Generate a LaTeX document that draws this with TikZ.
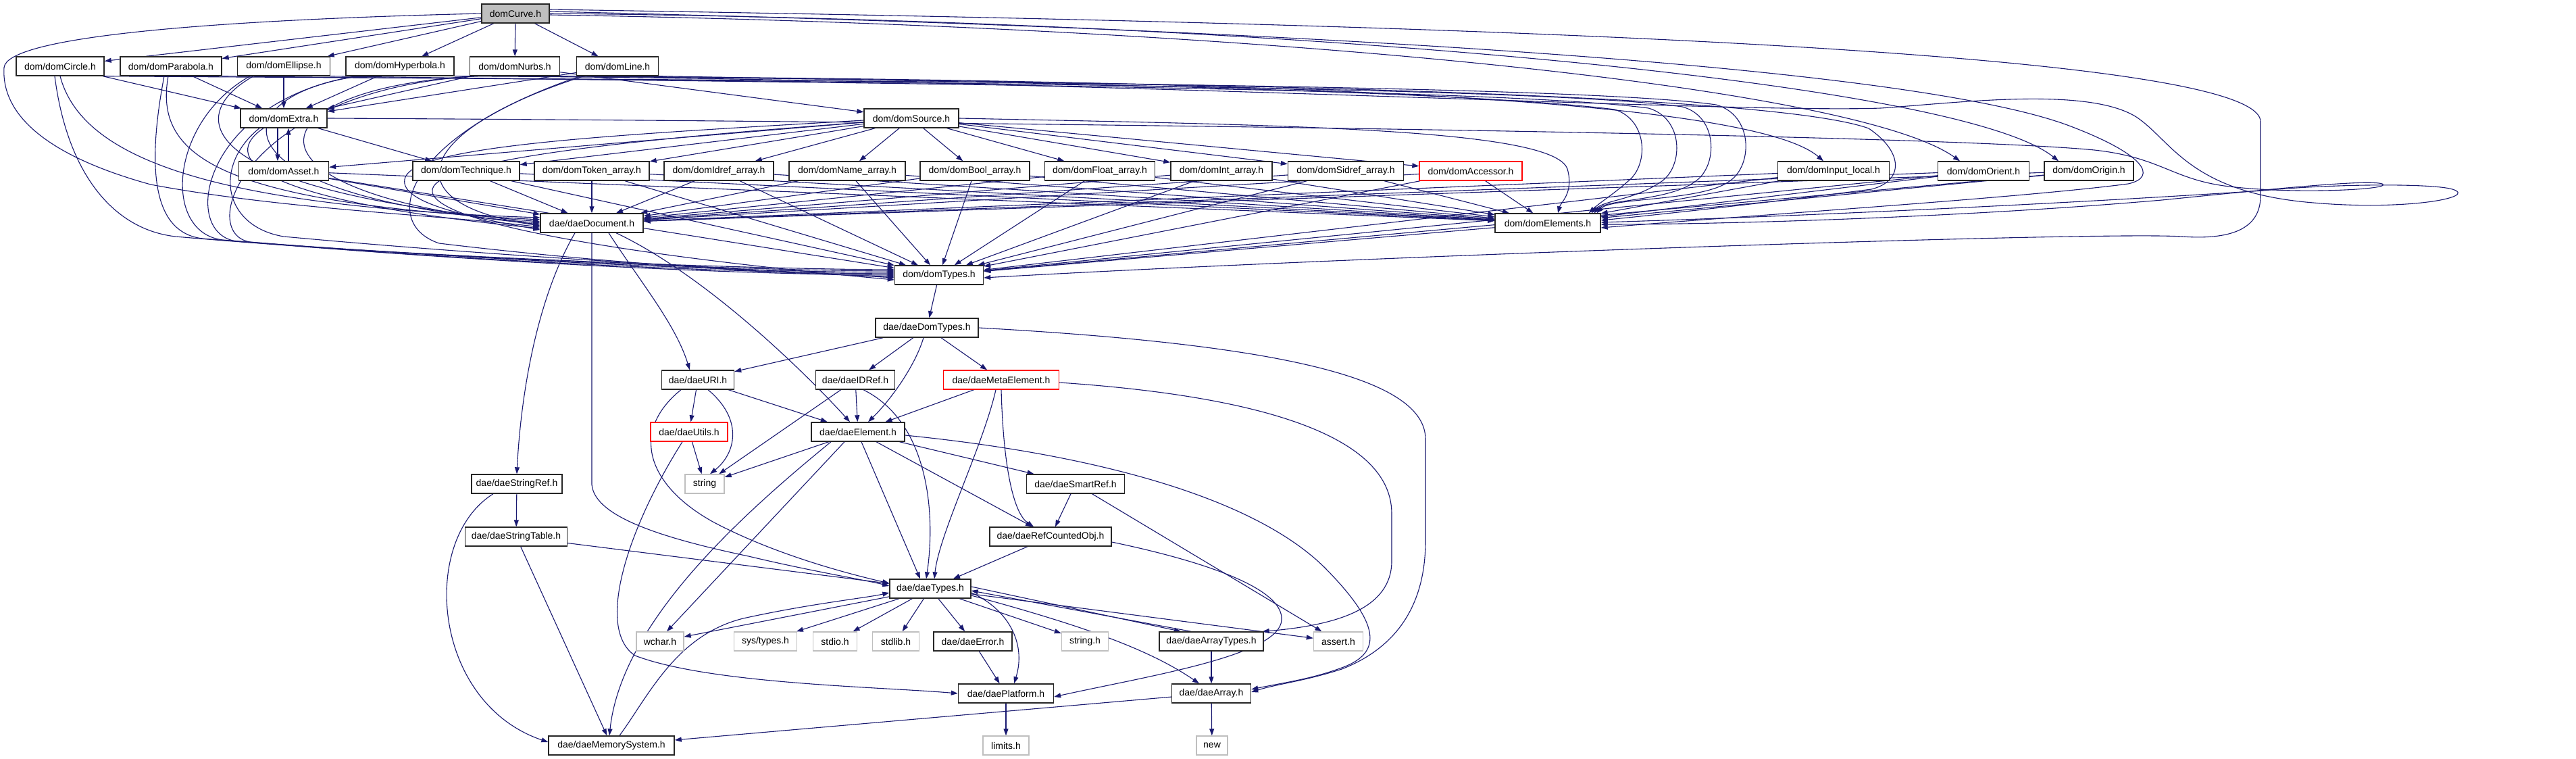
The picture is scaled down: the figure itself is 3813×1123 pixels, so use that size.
\documentclass[tikz,border=0pt]{standalone}
\usepackage{fontspec}
\setmainfont{Liberation Sans}
\usetikzlibrary{arrows.meta}
\pgfdeclarelayer{bg}
\pgfsetlayers{bg,main}
\definecolor{edgec}{HTML}{191970}
\definecolor{leafc}{HTML}{BFBFBF}
\definecolor{truncc}{HTML}{FF0000}
\begin{document}
\begin{tikzpicture}[x=1pt,y=-1pt,
 box/.style={draw=black!85,line width=1.4pt,fill=white,minimum height=28pt,inner sep=0pt,font=\fontsize{14pt}{16pt}\selectfont},
 leaf/.style={box,draw=leafc},
 trunc/.style={box,draw=truncc},
 e/.style={draw=edgec,line width=1.1pt,-{Triangle[length=10pt,width=7pt]}}]
\useasboundingbox (0,0) rectangle (3813,1123);
% nodes
\node[box,fill=leafc,minimum width=100pt] (nCurve) at (763,20) {domCurve.h};
\node[box,minimum width=130pt] (nCircle) at (89,98) {dom/domCircle.h};
\node[box,minimum width=150pt] (nParabola) at (253,98) {dom/domParabola.h};
\node[box,minimum width=137pt] (nEllipse) at (420,98) {dom/domEllipse.h};
\node[box,minimum width=160pt] (nHyper) at (592,98) {dom/domHyperbola.h};
\node[box,minimum width=133pt] (nNurbs) at (762,98) {dom/domNurbs.h};
\node[box,minimum width=121pt] (nLine) at (914,98) {dom/domLine.h};
\node[box,minimum width=128pt] (nExtra) at (420,175) {dom/domExtra.h};
\node[box,minimum width=140pt] (nSource) at (1349,175) {dom/domSource.h};
\node[box,minimum width=133pt] (nAsset) at (420,253) {dom/domAsset.h};
\node[box,minimum width=158pt] (nTech) at (690,253) {dom/domTechnique.h};
\node[box,minimum width=170pt] (nToken) at (876,253) {dom/domToken\_array.h};
\node[box,minimum width=162pt] (nIdref) at (1064,253) {dom/domIdref\_array.h};
\node[box,minimum width=172pt] (nName) at (1254,253) {dom/domName\_array.h};
\node[box,minimum width=162pt] (nBool) at (1443,253) {dom/domBool\_array.h};
\node[box,minimum width=163pt] (nFloat) at (1628,253) {dom/domFloat\_array.h};
\node[box,minimum width=150pt] (nInt) at (1808,253) {dom/domInt\_array.h};
\node[box,minimum width=171pt] (nSidref) at (1992,253) {dom/domSidref\_array.h};
\node[trunc,minimum width=152pt] (nAccessor) at (2177,253) {dom/domAccessor.h};
\node[box,minimum width=165pt] (nInput) at (2714,253) {dom/domInput\_local.h};
\node[box,minimum width=135pt] (nOrient) at (2936,253) {dom/domOrient.h};
\node[box,minimum width=132pt] (nOrigin) at (3092,253) {dom/domOrigin.h};
\node[box,minimum width=152pt] (nDoc) at (876,330) {dae/daeDocument.h};
\node[box,minimum width=156pt] (nElems) at (2291,330) {dom/domElements.h};
\node[box,minimum width=131pt] (nDomTypes) at (1390,407) {dom/domTypes.h};
\node[box,minimum width=152pt] (nDaeDom) at (1372,485) {dae/daeDomTypes.h};
\node[box,minimum width=107pt] (nURI) at (1033,562) {dae/daeURI.h};
\node[box,minimum width=117pt] (nIDRef) at (1266,562) {dae/daeIDRef.h};
\node[trunc,minimum width=171pt] (nMeta) at (1482,562) {dae/daeMetaElement.h};
\node[trunc,minimum width=114pt] (nUtils) at (1020,639) {dae/daeUtils.h};
\node[box,minimum width=138pt] (nElement) at (1270,639) {dae/daeElement.h};
\node[leaf,minimum width=58pt] (nString) at (1043,716) {string};
\node[box,minimum width=134pt] (nStrRef) at (765,716) {dae/daeStringRef.h};
\node[box,minimum width=145pt] (nSmart) at (1592,716) {dae/daeSmartRef.h};
\node[box,minimum width=151pt] (nStrTab) at (764,794) {dae/daeStringTable.h};
\node[box,minimum width=180pt] (nRefCnt) at (1555,794) {dae/daeRefCountedObj.h};
\node[box,minimum width=120pt] (nTypes) at (1377,871) {dae/daeTypes.h};
\node[leaf,minimum width=70pt] (nWchar) at (977,949) {wchar.h};
\node[leaf,minimum width=93pt] (nSysT) at (1133,949) {sys/types.h};
\node[leaf,minimum width=65pt] (nStdio) at (1236,949) {stdio.h};
\node[leaf,minimum width=69pt] (nStdlib) at (1326,949) {stdlib.h};
\node[box,minimum width=116pt] (nError) at (1440,949) {dae/daeError.h};
\node[leaf,minimum width=69pt] (nStrH) at (1606,949) {string.h};
\node[box,minimum width=154pt] (nArrT) at (1793,949) {dae/daeArrayTypes.h};
\node[leaf,minimum width=73pt] (nAssert) at (1981,949) {assert.h};
\node[box,minimum width=141pt] (nPlat) at (1489,1026) {dae/daePlatform.h};
\node[box,minimum width=117pt] (nArray) at (1793,1026) {dae/daeArray.h};
\node[box,minimum width=186pt] (nMem) at (905,1103) {dae/daeMemorySystem.h};
\node[leaf,minimum width=68pt] (nLimits) at (1489,1103) {limits.h};
\node[leaf,minimum width=46pt] (nNew) at (1794,1103) {new};

\begin{pgfonlayer}{bg}
\fill[white] (0,0) rectangle (3813,1123);
% domCurve
\foreach \t in {nCircle,nParabola,nEllipse,nHyper,nNurbs,nLine} \draw[e] (nCurve) -- (\t);
\draw[e] (nCurve.west) .. controls (300,30) and (10,55) .. (6,100) .. controls (2,165) and (60,228) .. (223,273) .. controls (420,310) and (650,318) .. ([yshift=-6pt]nDoc.west);
\draw[e] ([yshift=6pt]nCurve.east) .. controls (1800,30) and (3346,60) .. (3346,180) -- (3346,290) .. controls (3346,340) and (3300,355) .. (3230,350) .. controls (3100,342) and (2000,380) .. ([yshift=-4pt]nDomTypes.east);
\draw[e] ([yshift=3pt]nCurve.east) .. controls (1800,40) and (2800,90) .. (3060,185) .. controls (3175,228) and (3195,262) .. (3150,272) .. controls (3000,292) and (2600,318) .. ([yshift=-7pt]nElems.east);
\draw[e] ([yshift=-2pt]nCurve.east) .. controls (1900,40) and (2750,130) .. ([xshift=-35pt]nOrient.north);
\draw[e] ([yshift=0pt]nCurve.east) .. controls (1900,30) and (2900,120) .. ([xshift=-45pt]nOrigin.north);
% row 2 -> extra
\foreach \t in {nCircle,nParabola,nEllipse,nHyper,nNurbs,nLine} \draw[e] (\t) -- (nExtra);
% row 2 -> document
\draw[e] (nCircle.south) .. controls (120,230) and (300,305) .. ([yshift=8pt]nDoc.west);
\draw[e] ([xshift=-4pt]nParabola.south) .. controls (228,230) and (320,300) .. ([yshift=5pt]nDoc.west);
\draw[e] ([xshift=-45pt]nEllipse.south) .. controls (265,175) and (300,285) .. ([yshift=2pt]nDoc.west);
\draw[e] ([xshift=-60pt]nHyper.south) .. controls (330,140) and (300,290) .. ([yshift=0pt]nDoc.west);
\draw[e] ([xshift=-55pt]nNurbs.south) .. controls (380,128) and (320,285) .. ([yshift=-2pt]nDoc.west);
\draw[e] ([xshift=-50pt]nLine.south) .. controls (620,190) and (570,300) .. ([yshift=-4pt]nDoc.west);
% row 2 -> domTypes (left)
\draw[e] ([xshift=-8pt]nCircle.south) .. controls (100,260) and (170,340) .. (260,350) .. controls (600,380) and (1100,398) .. ([yshift=8pt]nDomTypes.west);
\draw[e] ([xshift=-10pt]nParabola.south) .. controls (215,260) and (230,345) .. (300,353) .. controls (650,382) and (1100,400) .. ([yshift=6pt]nDomTypes.west);
\draw[e] ([xshift=-50pt]nEllipse.south) .. controls (250,180) and (240,345) .. (330,355) .. controls (700,385) and (1100,402) .. ([yshift=4pt]nDomTypes.west);
\draw[e] ([xshift=-65pt]nHyper.south) .. controls (300,150) and (265,345) .. (350,357) .. controls (720,388) and (1100,404) .. ([yshift=2pt]nDomTypes.west);
\draw[e] ([xshift=-60pt]nNurbs.south) .. controls (360,135) and (290,345) .. (370,358) .. controls (740,390) and (1100,406) .. ([yshift=0pt]nDomTypes.west);
\draw[e] ([xshift=-55pt]nLine.south) .. controls (600,200) and (560,330) .. (650,360) .. controls (900,390) and (1150,405) .. ([yshift=-2pt]nDomTypes.west);
% row 2 -> elements (right)
\draw[e] (nCircle.south east) .. controls (900,118) and (2300,120) .. (2540,155) .. controls (2595,170) and (2595,245) .. (2560,268) .. controls (2520,298) and (2385,292) .. ([xshift=-6pt]nElems.north east);
\draw[e] (nParabola.south east) .. controls (1000,120) and (2250,124) .. (2490,158) .. controls (2543,172) and (2543,245) .. (2510,268) .. controls (2470,298) and (2380,294) .. ([xshift=-10pt]nElems.north east);
\draw[e] (nEllipse.south east) .. controls (1100,122) and (2200,128) .. (2440,160) .. controls (2492,175) and (2492,245) .. (2460,268) .. controls (2420,296) and (2375,296) .. ([xshift=-14pt]nElems.north east);
\draw[e] (nLine.south east) .. controls (1400,120) and (2150,132) .. (2390,162) .. controls (2440,178) and (2440,245) .. (2410,268) .. controls (2385,290) and (2370,298) .. ([xshift=-18pt]nElems.north east);
\draw[e] (nNurbs.south east) .. controls (1500,120) and (2600,130) .. (2766,190) .. controls (2818,225) and (2818,268) .. (2770,280) .. controls (2600,302) and (2450,318) .. ([yshift=4pt]nElems.east);
\draw[e] (nNurbs) -- (nSource);
\draw[e] (nNurbs.south east) .. controls (1700,118) and (2580,135) .. ([xshift=-15pt]nInput.north);
\draw[e] (nHyper.south east) .. controls (1600,116) and (2550,168) .. (2784,160) .. controls (2900,152) and (3090,128) .. (3162,173) .. controls (3215,208) and (3240,285) .. (3424,300) .. controls (3560,312) and (3670,292) .. (3630,280) .. controls (3600,271) and (3450,272) .. (3350,282) .. controls (3000,305) and (2600,322) .. ([yshift=1pt]nElems.east);
% extra
\draw[e] (nExtra.east) .. controls (1500,180) and (2850,198) .. (3100,222) .. controls (3200,233) and (3215,266) .. (3300,276) .. controls (3400,288) and (3545,280) .. (3526,272) .. controls (3505,265) and (3360,280) .. (3200,296) .. controls (2900,322) and (2550,332) .. ([yshift=-2pt]nElems.east);
\draw[e] ([xshift=-9pt]nExtra.south) -- ([xshift=-9pt]nAsset.north);
\draw[e] ([xshift=7pt]nAsset.north) -- ([xshift=7pt]nExtra.south);
\draw[e] (nExtra) -- (nTech);
\draw[e] ([xshift=-30pt]nExtra.south) .. controls (330,230) and (360,295) .. ([yshift=-8pt]nDoc.west);
\draw[e] ([xshift=-36pt]nExtra.south) .. controls (315,245) and (330,335) .. (420,350) .. controls (800,385) and (1150,400) .. ([yshift=-4pt]nDomTypes.west);
% asset
\draw[e] (nAsset) -- (nDoc);
\draw[e] (nAsset) -- (nDomTypes);
\draw[e] (nAsset) -- (nElems);
% row 4 -> document, domTypes, elements
\foreach \s in {nTech,nToken,nIdref,nName,nBool,nFloat,nInt,nSidref,nAccessor,nInput,nOrient,nOrigin} {
  \draw[e] (\s) -- (nDoc);
  \draw[e] (\s) -- (nDomTypes);
  \draw[e] (\s) -- (nElems);
}
% source
\foreach \t in {nAsset,nTech,nToken,nIdref,nName,nBool,nFloat,nInt,nSidref,nAccessor} \draw[e] (nSource) -- (\t);
\draw[e] ([yshift=-3pt]nSource.west) .. controls (900,200) and (620,215) .. (600,262) .. controls (585,300) and (700,322) .. ([yshift=-10pt]nDoc.west);
\draw[e] ([yshift=-6pt]nSource.west) .. controls (950,205) and (650,235) .. (640,280) .. controls (630,335) and (1000,385) .. ([yshift=-7pt]nDomTypes.west);
\draw[e] (nSource.east) .. controls (1900,185) and (2300,190) .. (2320,250) .. controls (2330,285) and (2310,300) .. ([xshift=15pt]nElems.north);
% document
\draw[e] ([xshift=-25pt]nDoc.south) .. controls (790,450) and (770,600) .. (nStrRef.north);
\draw[e] (nDoc.south) -- (876,717) .. controls (880,760) and (960,792) .. (1108,823) .. controls (1200,845) and (1280,858) .. ([yshift=4pt]nTypes.west);
\draw[e] ([xshift=25pt]nDoc.south) .. controls (950,420) and (1000,480) .. ([xshift=-12pt]nURI.north);
\draw[e] ([xshift=36pt]nDoc.south) .. controls (1050,410) and (1200,560) .. ([xshift=-12pt]nElement.north);
% elements, domTypes
\draw[e] (nElems) -- (nDomTypes);
\draw[e] (nDomTypes) -- (nDaeDom);
% daeDomTypes
\draw[e] (nDaeDom) -- (nURI);
\draw[e] (nDaeDom) -- (nIDRef);
\draw[e] (nDaeDom) -- (nMeta);
\draw[e] ([xshift=-5pt]nDaeDom.south) .. controls (1355,540) and (1320,590) .. ([xshift=15pt]nElement.north);
\draw[e] (nDaeDom.east) .. controls (1900,510) and (2110,560) .. (2110,650) -- (2110,800) .. controls (2110,900) and (2063,960) .. (1986,990) .. controls (1930,1008) and (1890,1012) .. ([yshift=2pt]nArray.east);
% meta
\draw[e] (nMeta) -- (nElement);
\draw[e] ([xshift=-8pt]nMeta.south) .. controls (1455,660) and (1390,790) .. ([xshift=6pt]nTypes.north);
\draw[e] ([xshift=0pt]nMeta.south) .. controls (1485,690) and (1500,760) .. ([xshift=-25pt]nRefCnt.north);
\draw[e] ([yshift=-4pt]nMeta.east) .. controls (1850,585) and (2060,640) .. (2060,760) -- (2060,830) .. controls (2060,900) and (1980,925) .. ([xshift=-2pt]nArrT.north east);
% uri
\draw[e] (nURI) -- (nUtils);
\draw[e] ([xshift=15pt]nURI.south) .. controls (1100,620) and (1090,670) .. ([xshift=8pt]nString.north);
\draw[e] (nURI) -- (nElement);
\draw[e] ([xshift=-25pt]nURI.south) .. controls (930,640) and (960,720) .. (1057,773) .. controls (1150,822) and (1260,850) .. ([yshift=8pt]nTypes.west);
% idref
\draw[e] (nIDRef) -- (nElement);
\draw[e] (nIDRef) -- (nString);
\draw[e] ([xshift=12pt]nIDRef.south) .. controls (1375,625) and (1385,760) .. ([xshift=-6pt]nTypes.north);
% utils
\draw[e] (nUtils) -- (nString);
\draw[e] ([xshift=-10pt]nUtils.south) .. controls (930,780) and (880,930) .. (940,970) .. controls (1050,1012) and (1300,1016) .. (nPlat.west);
% element
\draw[e] (nElement) -- (nString);
\draw[e] ([xshift=-40pt]nElement.south) .. controls (1100,760) and (920,920) .. ([xshift=-3pt]nMem.north);
\draw[e] ([xshift=-20pt]nElement.south) -- ([xshift=10pt]nWchar.north);
\draw[e] ([xshift=5pt]nElement.south) -- ([xshift=-15pt]nTypes.north);
\draw[e] (nElement) -- (nRefCnt);
\draw[e] (nElement) -- (nSmart);
\draw[e] ([yshift=-5pt]nElement.east) .. controls (1600,670) and (1850,730) .. (1961,840) .. controls (2040,920) and (2050,965) .. (1986,988) .. controls (1940,1005) and (1900,1010) .. ([yshift=6pt]nArray.east);
% smartref, refcounted
\draw[e] (nSmart) -- (nRefCnt);
\draw[e] (nSmart) -- (nAssert);
\draw[e] (nRefCnt) -- (nTypes);
\draw[e] ([yshift=-8pt]nRefCnt.east) .. controls (1780,830) and (1900,870) .. (1897,917) .. controls (1895,970) and (1700,1000) .. ([yshift=-5pt]nPlat.east);
% string ref / table
\draw[e] (nStrRef) -- (nStrTab);
\draw[e] ([xshift=-35pt]nStrRef.south) .. controls (620,800) and (640,1040) .. ([yshift=5pt]nMem.west);
\draw[e] (nStrTab) -- (nTypes);
\draw[e] (nStrTab) -- (nMem);
% memory system
\draw[e] ([xshift=12pt]nMem.north) .. controls (960,1030) and (1000,940) .. (1100,915) .. controls (1200,893) and (1280,885) .. ([yshift=-6pt]nTypes.west);
% daeTypes
\foreach \t in {nWchar,nSysT,nStdio,nStdlib,nError,nStrH,nAssert} \draw[e] (nTypes) -- (\t);
\draw[e] ([yshift=3pt]nTypes.east) -- ([xshift=-45pt]nArrT.north);
\draw[e] ([xshift=-30pt]nArrT.north) -- ([yshift=-3pt]nTypes.east);
\draw[e] ([yshift=-10pt]nTypes.east) .. controls (1600,925) and (1700,960) .. ([xshift=-18pt]nArray.north);
\draw[e] ([yshift=-6pt]nTypes.east) .. controls (1490,900) and (1520,950) .. ([xshift=12pt]nPlat.north);
% leaves
\draw[e] (nError) -- (nPlat);
\draw[e] (nPlat) -- (nLimits);
\draw[e] (nArrT) -- (nArray);
\draw[e] (nArray) -- (nNew);
\draw[e] (nArray) -- (nMem);
\end{pgfonlayer}
\end{tikzpicture}
\end{document}
